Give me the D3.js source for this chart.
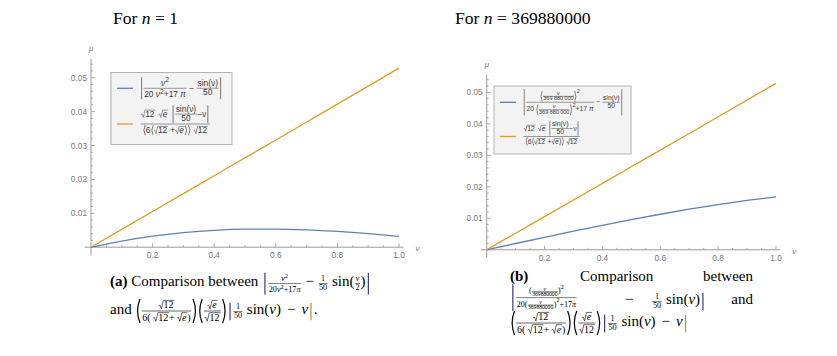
<!DOCTYPE html>
<html>
<head>
<meta charset="utf-8">
<script src="https://cdn.jsdelivr.net/npm/d3@7"></script>
<style>
body { margin: 0; background: #fff; }
svg { display: block; }
svg text { white-space: pre; }
</style>
</head>
<body>
<div id="chart"></div>
<script>
/* ------------------------- Data ------------------------- */
var nu = [0, 0.1, 0.2, 0.3, 0.4, 0.5, 0.6, 0.7, 0.8, 0.9, 1.0];
/* panel (a), n = 1 */
var blueA   = [0, 0.00181, 0.00324, 0.00428, 0.00496, 0.00531, 0.00535, 0.00513, 0.00468, 0.00403, 0.00321];
var orangeA = [0, 0.00527, 0.01053, 0.01580, 0.02108, 0.02636, 0.03164, 0.03693, 0.04222, 0.04752, 0.05284];
/* panel (b), n = 369880000 */
var blueB   = [0, 0.00200, 0.00397, 0.00591, 0.00779, 0.00959, 0.01129, 0.01288, 0.01435, 0.01567, 0.01683];
var orangeB = [0, 0.00527, 0.01053, 0.01580, 0.02108, 0.02636, 0.03164, 0.03693, 0.04222, 0.04752, 0.05284];

var xTicks = [0.2, 0.4, 0.6, 0.8, 1.0];
var yTicks = [0.01, 0.02, 0.03, 0.04, 0.05];
var titles = ["1", "369880000"];

var blue = "#5e81b5", orange = "#e19c24";
var sans = "'Liberation Sans', Arial, sans-serif",
    serif = "'Liberation Serif', 'Times New Roman', serif";

var svg = d3.select("#chart").append("svg")
    .attr("width", 837)
    .attr("height", 356);

/* ------------------------- Tiny math layout ------------------------- */
var meas = svg.append("text").attr("visibility", "hidden");

function T(s, f) {
    meas.attr("font-size", f.size).attr("font-family", f.family)
        .attr("font-style", f.it ? "italic" : "normal")
        .attr("font-weight", f.bold ? "bold" : "normal").text(s);
    var w = meas.node().getComputedTextLength();
    return {w: w, a: f.size * 0.68, d: f.size * 0.16, draw: function(g, x, y) {
        g.append("text").attr("x", x).attr("y", y)
            .attr("font-size", f.size).attr("font-family", f.family)
            .attr("font-style", f.it ? "italic" : null)
            .attr("font-weight", f.bold ? "bold" : null)
            .attr("fill", f.fill || "#000")
            .text(s);
    }};
}
function Row(items) {
    var w = 0, a = 0, d = 0;
    items.forEach(function(b) { w += b.w; a = Math.max(a, b.a); d = Math.max(d, b.d); });
    return {w: w, a: a, d: d, draw: function(g, x, y) {
        var cx = x;
        items.forEach(function(b) { b.draw(g, cx, y); cx += b.w; });
    }};
}
function Sp(w) { return {w: w, a: 0, d: 0, draw: function() {}}; }
function Frac(n, dn, f, gap) {
    var ax = f.size * 0.3, gp = gap != null ? gap : f.size * 0.12, p = f.size * 0.12;
    var w = Math.max(n.w, dn.w) + 2 * p;
    return {w: w, a: ax + gp + n.d + n.a, d: -ax + gp + dn.a + dn.d, draw: function(g, x, y) {
        g.append("line").attr("x1", x + p * 0.5).attr("x2", x + w - p * 0.5)
            .attr("y1", y - ax).attr("y2", y - ax)
            .attr("stroke", f.fill || "#000").attr("stroke-width", Math.max(0.5, f.size * 0.06));
        n.draw(g, x + (w - n.w) / 2, y - ax - gp - n.d);
        dn.draw(g, x + (w - dn.w) / 2, y - ax + gp + dn.a);
    }};
}
function Sup(b, s, f) {
    var r = Math.max(f.size * 0.42, b.a - s.a * 0.6);
    return {w: b.w + s.w, a: Math.max(b.a, r + s.a), d: b.d, draw: function(g, x, y) {
        b.draw(g, x, y); s.draw(g, x + b.w, y - r);
    }};
}
function Sqrt(b, f) {
    var sw = f.size * 0.5, top = b.a + f.size * 0.1;
    return {w: b.w + sw + f.size * 0.08, a: top + f.size * 0.05, d: b.d, draw: function(g, x, y) {
        g.append("path")
            .attr("d", "M" + x + "," + (y - f.size * 0.25) +
                "L" + (x + sw * 0.25) + "," + (y - f.size * 0.32) +
                "L" + (x + sw * 0.55) + "," + (y + b.d * 0.5) +
                "L" + (x + sw * 0.95) + "," + (y - top) +
                "L" + (x + sw + b.w + f.size * 0.08) + "," + (y - top))
            .attr("fill", "none").attr("stroke", f.fill || "#000")
            .attr("stroke-width", Math.max(0.5, f.size * 0.06));
        b.draw(g, x + sw, y);
    }};
}
function Delim(b, l, r, f, lc, rc) {
    var dw = f.size * 0.38, a = b.a + f.size * 0.06, d = b.d + f.size * 0.06;
    var wl = l ? dw : 0, wr = r ? dw : 0;
    function one(g, type, x, y, col) {
        var sw = Math.max(0.6, f.size * 0.08);
        if (type === "|") {
            g.append("line").attr("x1", x + dw / 2).attr("x2", x + dw / 2)
                .attr("y1", y - a).attr("y2", y + d)
                .attr("stroke", col).attr("stroke-width", sw);
        } else {
            var s = type === "(" ? 1 : -1, x0 = type === "(" ? x + dw * 0.8 : x + dw * 0.2;
            g.append("path")
                .attr("d", "M" + x0 + "," + (y - a) + "Q" + (x0 - s * dw * 0.85) + "," + (y + (d - a) / 2) +
                    " " + x0 + "," + (y + d))
                .attr("fill", "none").attr("stroke", col).attr("stroke-width", sw);
        }
    }
    return {w: b.w + wl + wr, a: a, d: d, draw: function(g, x, y) {
        if (l) one(g, l, x, y, lc || f.fill || "#000");
        b.draw(g, x + wl, y);
        if (r) one(g, r, x + wl + b.w, y, rc || f.fill || "#000");
    }};
}
function fnt(size, family, fill, it, bold) {
    return {size: size, family: family, fill: fill, it: it, bold: bold};
}

/* ------------------------- Plots ------------------------- */
var panels = [
    {x0: 91, x1: 399, y0: 247.2, y5: 77.7, blue: blueA, orange: orangeA, title: titles[0], tx: 113},
    {x0: 486.7, x1: 776, y0: 249.8, y5: 92.3, blue: blueB, orange: orangeB, title: titles[1], tx: 455}
];

panels.forEach(function(p, k) {
    var x = d3.scaleLinear().domain([0, 1]).range([p.x0, p.x1]);
    var y = d3.scaleLinear().domain([0, 0.05]).range([p.y0, p.y5]);
    var g = svg.append("g");

    /* title */
    var t = g.append("text").attr("x", p.tx).attr("y", 24)
        .attr("font-family", serif).attr("font-size", 17.6).attr("fill", "#000");
    t.append("tspan").text("For ");
    t.append("tspan").attr("font-style", "italic").text("n");
    t.append("tspan").text(" = " + p.title);

    /* axes */
    var ax = "#9a9a9a";
    g.append("line").attr("x1", x(-0.02)).attr("x2", x(1.015)).attr("y1", y(0)).attr("y2", y(0))
        .attr("stroke", ax).attr("stroke-width", 1);
    g.append("line").attr("x1", x(0)).attr("x2", x(0)).attr("y1", y(-0.0025)).attr("y2", y(0.0555))
        .attr("stroke", ax).attr("stroke-width", 1);

    d3.range(0.05, 1.001, 0.05).forEach(function(v) {
        var major = Math.abs(v * 5 - Math.round(v * 5)) < 1e-6;
        g.append("line").attr("x1", x(v)).attr("x2", x(v))
            .attr("y1", y(0)).attr("y2", y(0) - (major ? 4 : 2))
            .attr("stroke", ax).attr("stroke-width", 0.8);
    });
    d3.range(0.002, 0.0551, 0.002).forEach(function(v) {
        var major = Math.abs(v * 100 - Math.round(v * 100)) < 1e-6;
        g.append("line").attr("x1", x(0)).attr("x2", x(0) + (major ? 4 : 2))
            .attr("y1", y(v)).attr("y2", y(v))
            .attr("stroke", ax).attr("stroke-width", 0.8);
    });

    g.selectAll(".xl").data(xTicks).enter().append("text")
        .attr("x", function(d) { return x(d); }).attr("y", y(0) + 11)
        .attr("text-anchor", "middle").attr("font-family", sans).attr("font-size", 8.3)
        .attr("fill", "#777").text(d3.format(".1f"));
    g.selectAll(".yl").data(yTicks).enter().append("text")
        .attr("x", x(0) - 4).attr("y", function(d) { return y(d) + 3; })
        .attr("text-anchor", "end").attr("font-family", sans).attr("font-size", 8.3)
        .attr("fill", "#777").text(d3.format(".2f"));

    g.append("text").attr("x", x(0) - 2).attr("y", y(0.0555) - 8)
        .attr("font-family", sans).attr("font-size", 8).attr("font-style", "italic")
        .attr("fill", "#777").text("μ");
    g.append("text").attr("x", x(1.015) + 12).attr("y", y(0) + 4)
        .attr("font-family", sans).attr("font-size", 8).attr("font-style", "italic")
        .attr("fill", "#777").text("ν");

    /* curves */
    var line = function(vals) {
        return d3.line().curve(d3.curveMonotoneX)
            .x(function(d, i) { return x(nu[i]); })
            .y(function(d) { return y(d); })(vals);
    };
    g.append("path").attr("d", line(p.blue)).attr("fill", "none")
        .attr("stroke", blue).attr("stroke-width", 1.3);
    g.append("path").attr("d", line(p.orange)).attr("fill", "none")
        .attr("stroke", orange).attr("stroke-width", 1.3);
});

/* ------------------------- Legends ------------------------- */
var lgFill = "#3a3a3a";

function orangeEntry(sz) {
    var f = fnt(sz, sans, lgFill), fi = fnt(sz, sans, lgFill, true);
    var inner = Delim(Row([Frac(T("sin(ν)", f), T("50", f), f, sz * 0.15), T("−ν", f)]), "|", "|", f);
    var num = Row([Sqrt(T("12", f), f), Sp(sz * 0.4), Sqrt(T("e", fi), f), Sp(sz * 0.4), inner]);
    var den = Row([Delim(Row([T("6", f), Delim(Row([Sqrt(T("12", f), f), T(" +", f), Sqrt(T("e", fi), f)]), "(", ")", f)]), "(", ")", f),
        Sp(sz * 0.3), Sqrt(T("12", f), f)]);
    return Frac(num, den, f);
}

function legend(bx, by, bw, bh, sz, e1, ly1, ly2) {
    var g = svg.append("g");
    g.append("rect").attr("x", bx).attr("y", by).attr("width", bw).attr("height", bh)
        .attr("fill", "#f3f3f3").attr("stroke", "#b4b4b4").attr("stroke-width", 1);
    g.append("line").attr("x1", bx + 6).attr("x2", bx + 22).attr("y1", ly1).attr("y2", ly1)
        .attr("stroke", blue).attr("stroke-width", 1.3);
    g.append("line").attr("x1", bx + 6).attr("x2", bx + 22).attr("y1", ly2).attr("y2", ly2)
        .attr("stroke", orange).attr("stroke-width", 1.3);
    e1.draw(g, bx + 29, ly1 + sz * 0.3);
    orangeEntry(sz).draw(g, bx + 29, ly2 + sz * 0.3);
}

/* legend (a) */
(function() {
    var sz = 8.4, f = fnt(sz, sans, lgFill), fi = fnt(sz, sans, lgFill, true), fs = fnt(sz * 0.8, sans, lgFill);
    var num = Sup(T("ν", fi), T("2", fs), f);
    var den = Row([T("20 ", f), Sup(T("ν", fi), T("2", fs), f), T("+17 ", f), T("π", fi)]);
    var e1 = Delim(Row([Frac(num, den, f), T(" − ", f), Frac(T("sin(ν)", f), T("50", f), f)]), "|", "|", f);
    legend(111, 72.5, 121, 72, sz, e1, 88.3, 124);
})();

/* legend (b) */
(function() {
    var sz = 6.8, f = fnt(sz, sans, lgFill), fi = fnt(sz, sans, lgFill, true), fs = fnt(sz * 0.8, sans, lgFill);
    var small = fnt(sz * 0.8, sans, lgFill), smi = fnt(sz * 0.8, sans, lgFill, true);
    var q = function() { return Frac(T("ν", smi), T("369 880 000", small), small, 0.4); };
    var num = Sup(Delim(q(), "(", ")", f), T("2", fs), f);
    var den = Row([T("20 ", f), Sup(Delim(q(), "(", ")", f), T("2", fs), f), T("+17 ", f), T("π", fi)]);
    var e1 = Delim(Row([Frac(num, den, f, 0.6), T(" − ", f), Frac(T("sin(ν)", f), T("50", f), f)]), "|", "|", f);
    legend(494, 86, 137, 68, sz, e1, 102.3, 136.5);
})();

/* ------------------------- Captions ------------------------- */
var CS = 15;
var c14 = fnt(CS, serif, "#000"), c14b = fnt(CS, serif, "#000", false, true), c14i = fnt(CS, serif, "#000", true);
var m = fnt(10, serif, "#000"), mi = fnt(10, serif, "#000", true);
var m8 = fnt(8.2, serif, "#000"), m8i = fnt(8.2, serif, "#000", true), ms = fnt(6.2, serif, "#000");
var barCol = "#3b3490", barCol2 = "#c98a2e";

function nu2(f, fi, fs) { return Sup(T("ν", fi), T("2", fs), f); }
function minus(f, gap) { return Row([Sp(gap), T("−", f), Sp(gap)]); }
function coefPart() {
    /* (√12 / 6(√12+√e)) (√e / √12) */
    var a = Delim(Frac(Sqrt(T("12", m), m), Row([T("6( ", m), Sqrt(T("12", m), m), T("+ ", m), Sqrt(T("e", mi), m), T(")", m)]), m), "(", ")", c14);
    var b = Delim(Frac(Sqrt(T("e", mi), m), Sqrt(T("12", m), m), m), "(", ")", c14);
    return Row([a, b]);
}
function tailPart() {
    return Delim(Row([Frac(T("1", m8), T("50", m8), m8), T(" sin(", c14), T("ν", c14i), T(")", c14), minus(c14, 6), T("ν", c14i)]),
        "|", "|", c14, barCol, barCol2);
}

/* caption (a) */
(function() {
    var g = svg.append("g");
    var fr = Frac(nu2(m8, m8i, ms), Row([T("20", m8), nu2(m8, m8i, ms), T("+17", m8), T("π", m8i)]), m8);
    var abs1 = Delim(Row([fr, minus(c14, 4), Frac(T("1", m8), T("50", m8), m8), T(" sin(", c14),
        Frac(T("ν", m8i), T("2", m8), m8), T(")", c14)]), "|", "|", c14, barCol, barCol);
    Row([T("(a)", c14b), T(" Comparison between ", c14), abs1]).draw(g, 110, 286);
    Row([T("and ", c14), coefPart(), tailPart(), T(".", c14)]).draw(g, 110, 314);
})();

/* caption (b) */
(function() {
    var g = svg.append("g");
    T("(b)", c14b).draw(g, 510, 281);
    T("Comparison", c14).draw(g, 580, 281);
    var bw = T("between", c14);
    bw.draw(g, 753 - bw.w, 281);

    var mb = fnt(8, serif, "#000"), mbi = fnt(8, serif, "#000", true), mbs = fnt(6, serif, "#000");
    var tiny = fnt(5.6, serif, "#000"), tinyi = fnt(5.6, serif, "#000", true);
    var q = function() { return Row([T("(", mb), Frac(T("ν", tinyi), T("369880000", tiny), tiny, 0.3), T(")", mb)]); };
    var fr = Frac(Sup(q(), T("2", mbs), mb), Row([T("20", mb), Sup(q(), T("2", mbs), mb), T("+17", mb), T("π", mbi)]), mb, 0.8);
    Delim(fr, "|", null, c14, barCol).draw(g, 510, 300);
    T("−", c14).draw(g, 625, 304);
    Delim(Row([Frac(T("1", m8), T("50", m8), m8), T(" sin(", c14), T("ν", c14i), T(")", c14)]), null, "|", c14, barCol, barCol)
        .draw(g, 652, 304);
    var an = T("and", c14);
    an.draw(g, 753 - an.w, 304);

    Row([coefPart(), tailPart()]).draw(g, 510, 326);
})();
</script>
</body>
</html>
